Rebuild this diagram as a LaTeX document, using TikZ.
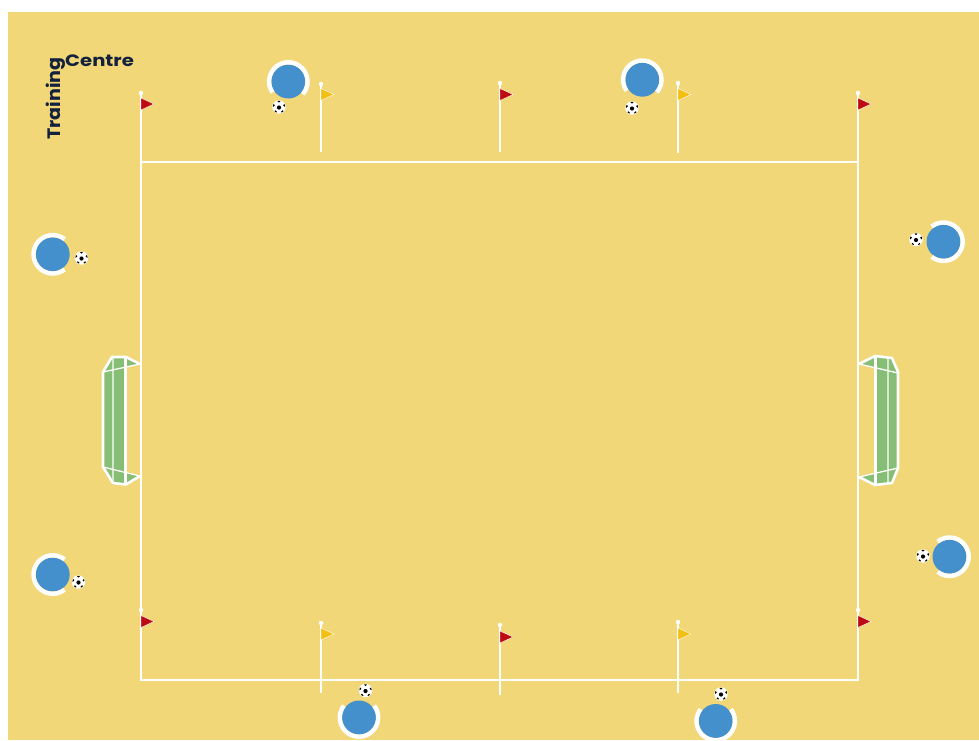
\documentclass[tikz,border=0pt]{standalone}
\usepackage{fontspec}
\setmainfont{Poppins}
\definecolor{pitch}{HTML}{F1D777}
\definecolor{playerblue}{HTML}{4390CD}
\definecolor{netgreen}{HTML}{85BE74}
\definecolor{flagred}{HTML}{BE0A12}
\definecolor{flagyellow}{HTML}{F4BF12}
\definecolor{textnavy}{HTML}{14213D}
\tikzset{
  pline/.style={draw=white,line width=1.6pt},
  gline/.style={draw=white,line width=2.6pt,line join=round},
  gthin/.style={draw=white,line width=1.3pt},
  brand/.style={text=textnavy,font=\bfseries,inner sep=0pt}
}
% player: x y gapcentre
\newcommand{\playerdisc}[3]{%
  \fill[playerblue] (#1,#2) circle (17);
  \draw[white,line width=4.4pt] plot[domain=#3+52:#3+308,samples=60,smooth] ({#1+19.2*cos(\x)},{#2-19.2*sin(\x)});
}
% ball: x y
\newcommand{\footy}[2]{%
  \begin{scope}
  \fill[white] (#1,#2) circle (6.7);
  \clip (#1,#2) circle (6.2);
  \fill[black] (#1,#2+0.5) circle (2.1);
  \foreach \a in {18,90,162,234,306}{\fill[black] ({#1+6*cos(\a)},{#2-6*sin(\a)}) circle (1.6);}
  \end{scope}
}
% flag: x topy bottomy flagy colour
\newcommand{\flagpole}[5]{%
  \draw[white,line width=1.3pt] (#1,#2) -- (#1,#3);
  \fill[white] (#1,#2) circle (2.2);
  \fill[#5,draw=white,line width=.4pt] (#1,#4-6) -- (#1+13,#4) -- (#1,#4+6) -- cycle;
}
\begin{document}
\begin{tikzpicture}[x=1pt,y=-1pt]
\useasboundingbox (0,0) rectangle (979,740);
\fill[white] (0,0) rectangle (979,740);
\fill[pitch] (8,12) rectangle (979,740);
% field
\draw[pline] (141,162) rectangle (858,680);
% flags
\flagpole{141}{93}{162}{104}{flagred}
\flagpole{321}{84}{152}{94.5}{flagyellow}
\flagpole{500}{83}{152}{94.5}{flagred}
\flagpole{678}{83}{153}{94.5}{flagyellow}
\flagpole{858}{93}{162}{104}{flagred}
\flagpole{141}{610}{680}{621.5}{flagred}
\flagpole{321}{623}{693}{634}{flagyellow}
\flagpole{500}{625}{695}{637}{flagred}
\flagpole{678}{622}{693}{634}{flagyellow}
\flagpole{858}{610}{680}{621.5}{flagred}
% left goal
\fill[netgreen] (126,357) -- (112,357) -- (103,372) -- (103,467) -- (113,483) -- (126,484) -- cycle;
\fill[netgreen] (126,357) -- (140,364) -- (126,367) -- cycle;
\fill[netgreen] (126,472) -- (140,476) -- (126,484) -- cycle;
\draw[gline] (140,364) -- (126,357) -- (112,357) -- (103,372) -- (103,467) -- (113,483) -- (126,484.5) -- (140,476);
\draw[gline] (125.5,357) -- (125.5,484.5);
\draw[gthin] (103,372) -- (140,364) (103,467) -- (140,476) (113,358) -- (113,483);
% right goal
\fill[netgreen] (875,356) -- (892,358) -- (898,372) -- (898,468) -- (892,483) -- (875,485) -- cycle;
\fill[netgreen] (875,356) -- (859,364) -- (875,368) -- cycle;
\fill[netgreen] (875,473) -- (859,477) -- (875,485) -- cycle;
\draw[gline] (859,364) -- (875,356) -- (892,358) -- (898,372) -- (898,468) -- (892,483) -- (875,485) -- (859,477);
\draw[gline] (875.5,356) -- (875.5,485);
\draw[gthin] (859,364) -- (898,373) (859,477) -- (898,468) (888,357) -- (888,484);
% players
\playerdisc{288.3}{81.5}{-93}
\playerdisc{642.3}{79.7}{-93}
\playerdisc{52.7}{254.3}{0}
\playerdisc{52.7}{574.5}{0}
\playerdisc{943.5}{241.7}{180}
\playerdisc{949.5}{556.7}{180}
\playerdisc{359}{717.5}{90}
\playerdisc{715.7}{721}{90}
% balls
\footy{279}{107}
\footy{632}{108}
\footy{81.5}{258}
\footy{78.5}{582}
\footy{916}{239.5}
\footy{923}{556}
\footy{365.5}{690.5}
\footy{721}{694}
% brand
\node[brand,anchor=base west] (centre) at (65,66.5) {\fontsize{16.5}{17}\selectfont\scalebox{1.19}[1]{Centre}};
\node[brand,anchor=base west,rotate=90] (training) at (60.5,139.8) {\fontsize{18}{19}\selectfont\scalebox{1.06}[1]{Training}};
\end{tikzpicture}
\end{document}
